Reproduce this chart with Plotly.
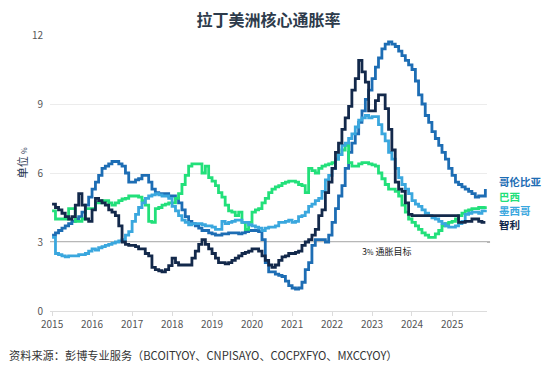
import pandas as pd
import plotly.graph_objects as go

dates = pd.date_range("2015-01-01", periods=131, freq="MS")

colombia = [
    3.3, 3.4, 3.5, 3.6, 3.7, 3.8, 3.9, 4.0, 4.1, 4.3, 4.6, 4.95,
    5.3, 5.6, 5.9, 6.2, 6.3, 6.4, 6.5, 6.5, 6.4, 6.3, 6.0, 5.6,
    5.6, 5.7, 5.75, 5.9, 5.9, 5.6, 5.3, 5.15, 5.1, 5.1, 5.1, 5.0,
    5.0, 4.9, 4.7, 4.4, 4.1, 3.9, 3.8, 3.7, 3.6, 3.5, 3.5, 3.4,
    3.35, 3.3, 3.3, 3.35, 3.35, 3.4, 3.4, 3.4, 3.35, 3.4, 3.45, 3.5,
    3.5, 3.5, 3.45, 3.1, 2.1, 1.7, 1.7, 1.6, 1.55, 1.5, 1.3, 1.1,
    1.0, 0.95, 1.0, 1.25, 1.8, 2.1, 2.85, 3.1, 3.1, 3.1, 3.0, 3.3,
    3.85, 4.45, 5.0, 5.45, 6.2, 6.9, 7.3, 7.7, 8.2, 8.7, 9.2, 9.6,
    10.1, 10.6, 11.0, 11.4, 11.6, 11.7, 11.6, 11.5, 11.3, 11.1, 10.9, 10.7,
    10.5, 10.0, 9.4, 9.0, 8.5, 8.2, 7.8, 7.5, 7.2, 6.9, 6.6, 6.2,
    5.9, 5.6, 5.5, 5.4, 5.3, 5.2, 5.1, 4.95, 5.0, 5.0, 5.3,
]

brazil = [
    4.35, 4.0, 4.0, 4.0, 4.0, 4.45, 4.45, 3.9, 3.9, 4.0, 4.45, 4.45,
    4.45, 4.7, 4.7, 4.8, 4.8, 4.7, 4.6, 4.7, 4.8, 4.87, 4.9, 5.0,
    5.0, 5.0, 4.95, 4.8, 4.6, 3.9, 3.85, 4.45, 4.5, 4.6, 4.65, 4.7,
    4.7, 4.9, 5.1, 5.5, 5.9, 6.3, 6.4, 6.4, 6.4, 6.0, 6.3, 5.8,
    5.65, 5.45, 5.15, 4.95, 4.6, 4.35, 4.3, 4.15, 4.3, 3.85, 3.55, 3.85,
    4.3, 4.4, 4.45, 4.7, 4.9, 5.15, 5.3, 5.4, 5.45, 5.55, 5.6, 5.65,
    5.65, 5.6, 5.5, 5.45, 5.15, 6.2, 6.1, 6.0, 6.2, 6.3, 6.35, 6.4,
    6.45, 6.6, 6.8, 7.0, 7.2, 6.45, 6.3, 6.3, 6.4, 6.45, 6.45, 6.4,
    6.35, 6.3, 6.0, 5.75, 5.5, 5.3, 5.3, 5.2, 5.0, 4.6, 4.3, 4.0,
    3.85, 3.7, 3.55, 3.4, 3.3, 3.2, 3.2, 3.35, 3.5, 3.7, 3.8, 3.85,
    3.9, 4.0, 4.15, 4.25, 4.35, 4.4, 4.45, 4.45, 4.5, 4.5, 4.55,
]

mexico = [
    3.2, 2.5, 2.45, 2.4, 2.35, 2.4, 2.4, 2.4, 2.45, 2.45, 2.5, 2.6,
    2.7, 2.65, 2.75, 2.8, 2.85, 2.9, 2.95, 3.0, 3.05, 3.1, 3.3, 3.45,
    3.9, 4.2, 4.5, 4.7, 4.9, 5.0, 5.05, 5.1, 5.05, 5.0, 5.0, 4.9,
    4.55, 4.35, 4.15, 3.95, 3.85, 3.75, 3.8, 3.8, 3.8, 3.75, 3.7, 3.7,
    3.65, 3.55, 3.55, 3.9, 3.8, 3.85, 3.9, 3.95, 3.95, 3.85, 3.85, 3.75,
    3.7, 3.65, 3.6, 3.5, 3.6, 3.65, 3.65, 3.7, 3.85, 3.85, 3.9, 3.95,
    3.85, 3.9, 4.1, 4.15, 4.3, 4.55, 4.65, 4.8, 4.9, 5.2, 5.7, 5.9,
    6.2, 6.6, 6.8, 7.2, 7.3, 7.5, 7.7, 8.0, 8.3, 8.4, 8.5, 8.4,
    8.45, 8.45, 8.1, 7.7, 7.4, 6.9, 6.6, 6.2, 5.8, 5.5, 5.3, 5.1,
    4.8, 4.65, 4.55, 4.4, 4.25, 4.15, 4.05, 4.0, 3.9, 3.8, 3.7, 3.65,
    3.65, 3.7, 3.8, 3.9, 4.2, 4.25, 4.3, 4.3, 4.25, 4.35, 4.4,
]

chile = [
    4.65, 4.5, 4.4, 4.25, 4.1, 4.0, 4.1, 4.6, 5.1, 4.6, 4.0, 3.9,
    4.4, 4.9, 4.8, 4.7, 4.6, 4.4, 4.3, 4.15, 3.7, 3.0, 2.9, 2.85,
    2.85, 2.8, 2.7, 2.7, 2.5, 2.4, 1.9, 1.8, 1.75, 1.7, 1.8, 1.97,
    2.3, 2.1, 2.0, 2.0, 2.0, 2.0, 2.3, 2.6, 2.9, 3.1, 2.9, 2.7,
    2.5, 2.3, 2.1, 2.1, 2.05, 2.1, 2.2, 2.3, 2.4, 2.5, 2.55, 2.6,
    2.7, 2.7, 2.6, 2.4, 2.2, 2.0, 1.9, 2.0, 2.2, 2.35, 2.4, 2.5,
    2.5, 2.55, 2.6, 2.85, 3.0, 3.1, 3.3, 3.55, 4.15, 4.4, 5.15, 5.6,
    6.2, 6.9, 7.3, 7.9, 8.4, 8.9, 9.6, 10.1, 10.9, 10.4, 9.95, 8.7,
    8.7, 9.15, 9.4, 9.4, 8.8, 7.9, 7.0, 5.6, 5.3, 5.2, 4.7, 4.2,
    4.15, 4.15, 4.15, 4.15, 4.15, 4.15, 4.15, 4.15, 4.15, 4.15, 4.15, 4.15,
    4.15, 4.15, 3.85, 3.85, 3.9, 3.9, 4.0, 4.0, 3.9, 3.85, 3.85,
]

series_names = ["哥伦比亚", "巴西", "墨西哥", "智利"]
series_values = [colombia, brazil, mexico, chile]
series_colors = ["#1d6db4", "#22e07a", "#3aa7de", "#13294b"]
label_y = [5.62, 4.99, 4.36, 3.76]

y_ticks = [0, 3, 6, 9, 12]
target = 3
target_label = "3<span style='font-size:7px'>%</span> 通胀目标"
title_text = "拉丁美洲核心通胀率"
y_title = "单位 <span style='font-size:7px'>%</span>"
source_text = "资料来源：彭博专业服务（BCOITYOY、CNPISAYO、COCPXFYO、MXCCYOY）"

FONT = "Noto Sans CJK SC"
# the page body has an 8px default margin, so the figure is laid out 8px up/left
OFF = 8

fig = go.Figure()
for name, vals, col in zip(series_names, series_values, series_colors):
    fig.add_trace(go.Scatter(
        x=dates, y=vals, name=name, mode="lines",
        line=dict(color=col, width=2.8, shape="hv"),
        showlegend=False,
    ))

fig.add_shape(type="line", xref="paper", x0=0, x1=1.007, yref="y", y0=target, y1=target,
              line=dict(color="#6f6f6f", width=1), layer="below")

annotations = []
for name, col, ly in zip(series_names, series_colors, label_y):
    annotations.append(dict(
        xref="paper", x=1.025, yref="y", y=ly, xanchor="left", yanchor="middle",
        text="<b>" + name + "</b>", showarrow=False, borderpad=0,
        font=dict(family=FONT, size=10.5, color=col),
    ))
annotations.append(dict(
    xref="x", x="2023-05-15", yref="y", y=2.57, xanchor="center", yanchor="middle",
    text=target_label, showarrow=False, font=dict(family=FONT, size=9, color="#222222"),
))
annotations.append(dict(
    xref="paper", x=-0.064, yref="paper", y=0.535, xanchor="center", yanchor="middle",
    text=y_title, textangle=-90, showarrow=False,
    font=dict(family=FONT, size=11, color="#1f3550"),
))
annotations.append(dict(
    xref="paper", x=-0.095, yref="paper", y=-0.16, xanchor="left", yanchor="middle",
    text=source_text, showarrow=False, borderpad=0,
    font=dict(family=FONT, size=11.2, color="#333333"),
))

fig.update_layout(
    width=550, height=371,
    margin=dict(l=50 - OFF, r=63 + OFF, t=35 - OFF, b=60 + OFF),
    paper_bgcolor="white", plot_bgcolor="white",
    title=dict(text="<b>" + title_text + "</b>", x=0.5, xref="paper", xanchor="center",
               y=1 - (20 - OFF) / 371, yref="container", yanchor="middle",
               font=dict(family=FONT, size=16, color="#2d3b4b")),
    annotations=annotations,
    xaxis=dict(
        type="date", range=["2014-12-13", "2025-11-16"],
        tick0="2015-01-01", dtick="M12", tickformat="%Y",
        showgrid=False, showline=True, linecolor="#dcdcdc", linewidth=1,
        ticks="outside", ticklen=4, tickcolor="#dcdcdc",
        tickfont=dict(family=FONT, size=10, color="#555555"),
        zeroline=False,
    ),
    yaxis=dict(
        range=[0, 12], tickvals=y_ticks, ticktext=[str(v) for v in y_ticks],
        showgrid=True, gridcolor="#ececec", gridwidth=1,
        showline=False, zeroline=False, ticks="",
        tickfont=dict(family=FONT, size=10, color="#555555"),
        ticklabelstandoff=6,
    ),
)

fig.write_html("out.html")
